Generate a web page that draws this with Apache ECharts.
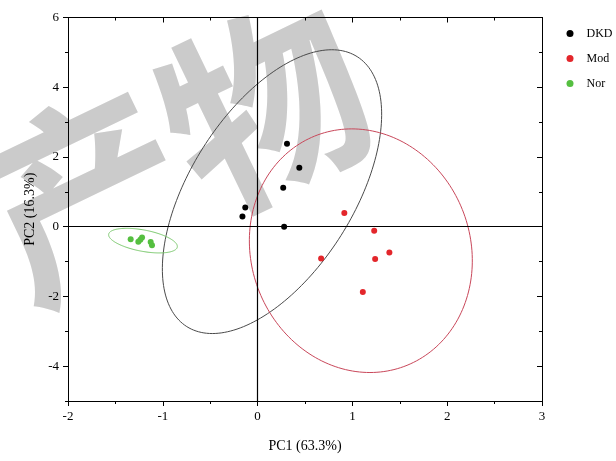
<!DOCTYPE html>
<html>
<head>
<meta charset="utf-8">
<script src="https://cdn.jsdelivr.net/npm/echarts@6/dist/echarts.min.js"></script>
<style>
  html, body { margin: 0; background: #fff; }
  #main { width: 616px; height: 461px; }
</style>
</head>
<body>
<div id="main"></div>
<script>
// scores, [PC1, PC2]
var dkd = [[0.31, 2.38], [0.44, 1.69], [0.27, 1.12], [-0.13, 0.55], [-0.16, 0.29], [0.28, 0.0]];
var mod = [[0.915, 0.39], [1.23, -0.115], [1.39, -0.74], [1.24, -0.93], [0.67, -0.91], [1.11, -1.87]];
var nor = [[-1.339, -0.364], [-1.258, -0.431], [-1.219, -0.307], [-1.237, -0.373], [-1.128, -0.44], [-1.114, -0.536]];

// ellipses: center x, center y, then two conjugate semi-diameters (ux, uy, vx, vy)
var dkdEllipse = [0.152, 1.005, 0.63, 4.07, 0.97, 0];
var modEllipse = [1.089, -0.689, -0.096, 3.494, 1.172, 0];
var norEllipse = [-1.209, -0.40, -0.172, 0.353, 0.319, 0];

var yLabels = [-4, -2, 0, 2, 4, 6];
var yMinor = [-5, -3, -1, 1, 3, 5];

var font = 'Liberation Serif';

var chart = echarts.init(document.getElementById('main'), null, { renderer: 'canvas' });

function ellipse(name, e, color) {
  return {
    name: name,
    type: 'custom',
    silent: true,
    z: 1,
    data: [e],
    renderItem: function (params, api) {
      var pts = [];
      for (var i = 0; i <= 200; i++) {
        var t = i / 200 * Math.PI * 2;
        var c = Math.cos(t), s = Math.sin(t);
        pts.push(api.coord([e[0] + e[2] * c + e[4] * s, e[1] + e[3] * c + e[5] * s]));
      }
      return {
        type: 'polyline',
        shape: { points: pts },
        style: { stroke: color, lineWidth: 1, fill: null }
      };
    }
  };
}

function xAx(pos) {
  var bottom = pos === 'bottom';
  return {
    type: 'value',
    position: pos,
    min: -2,
    max: 3,
    interval: 1,
    name: bottom ? 'PC1 (63.3%)' : '',
    nameLocation: 'middle',
    nameGap: 38,
    nameTextStyle: { fontFamily: font, fontSize: 14, color: '#000' },
    axisLine: { show: true, onZero: false, lineStyle: { color: '#000', width: 1 } },
    axisTick: { show: true, inside: !bottom, length: 5, lineStyle: { color: '#000' } },
    minorTick: { show: true, splitNumber: 2, length: 3, lineStyle: { color: '#000' } },
    axisLabel: { show: bottom, margin: 9, fontFamily: font, fontSize: 13, color: '#000' },
    splitLine: { show: false }
  };
}

function yAx(pos, major) {
  var left = pos === 'left';
  return {
    type: 'value',
    position: pos,
    min: -5,
    max: 6,
    interval: 1,
    name: left && major ? 'PC2 (16.3%)' : '',
    nameLocation: 'middle',
    nameGap: 27,
    nameTextStyle: { fontFamily: font, fontSize: 14, color: '#000' },
    axisLine: { show: true, onZero: false, lineStyle: { color: '#000', width: 1 } },
    axisTick: {
      show: true, inside: !left, length: major ? 5 : 3,
      customValues: major ? yLabels : yMinor,
      lineStyle: { color: '#000' }
    },
    axisLabel: {
      show: left && major, margin: 9, customValues: yLabels,
      fontFamily: font, fontSize: 13, color: '#000'
    },
    splitLine: { show: false }
  };
}

function dots(name, data, color) {
  return {
    name: name,
    type: 'scatter',
    data: data,
    symbol: 'circle',
    symbolSize: 6,
    z: 3,
    itemStyle: { color: color, opacity: 1 }
  };
}

var option = {
  backgroundColor: '#fff',
  animation: false,
  graphic: [{
    type: 'text',
    z: -10,
    silent: true,
    x: 175,
    y: 150,
    rotation: 0.45,
    style: {
      text: '产物',
      font: 'bold 200px "Noto Sans CJK SC"',
      fill: '#cbcbcb',
      align: 'center',
      verticalAlign: 'middle'
    }
  }],
  grid: { left: 68, top: 17.5, right: 74, bottom: 60 },
  xAxis: [xAx('bottom'), xAx('top')],
  yAxis: [yAx('left', true), yAx('right', true), yAx('left', false), yAx('right', false)],
  legend: {
    data: ['DKD', 'Mod', 'Nor'],
    orient: 'vertical',
    left: 566.5,
    top: 27.5,
    padding: 0,
    itemWidth: 7,
    itemHeight: 7,
    itemGap: 13,
    icon: 'circle',
    itemStyle: { opacity: 1 },
    textStyle: { fontFamily: font, fontSize: 12, color: '#000', padding: [0, 0, 0, 8] }
  },
  series: [
    ellipse('DKD ellipse', dkdEllipse, '#4a4a4a'),
    ellipse('Mod ellipse', modEllipse, '#c9475a'),
    ellipse('Nor ellipse', norEllipse, '#78c86a'),
    Object.assign(dots('DKD', dkd, '#000'), {
      markLine: {
        silent: true,
        symbol: 'none',
        label: { show: false },
        lineStyle: { color: '#000', type: 'solid', width: 1.2 },
        data: [{ xAxis: 0 }, { yAxis: 0 }]
      }
    }),
    dots('Mod', mod, '#e3262b'),
    dots('Nor', nor, '#55bf40')
  ]
};

chart.setOption(option);
</script>
</body>
</html>
